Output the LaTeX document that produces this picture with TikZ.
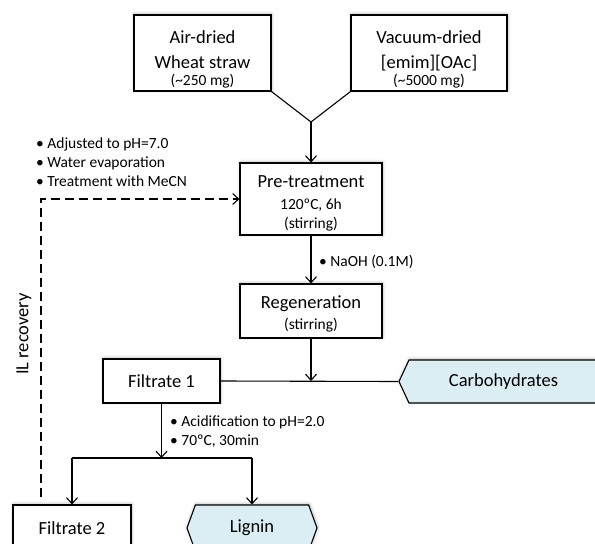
\documentclass[tikz,border=0pt]{standalone}
\usepackage{fontspec}
\setmainfont{Carlito}
\usetikzlibrary{arrows.meta,shapes.symbols,shadows.blur}
\definecolor{paleblue}{HTML}{DBEEF4}
\newcommand\bigtxt{\fontsize{18.5}{25}\selectfont}
\newcommand\smalltxt{\fontsize{15.5}{19}\selectfont}
% invisible strut that lowers a text block inside its box
\newcommand\lowerby[1]{\rule{0pt}{#1}}

\begin{document}
\begin{tikzpicture}[x=1pt,y=-1pt,
  softshadow/.style={blur shadow={shadow xshift=0.6pt,shadow yshift=0.8pt,
      shadow blur radius=3pt,shadow opacity=35}},
  box/.style={draw,line width=1.1pt,fill=white,align=center,inner sep=0pt,
      font=\bigtxt,softshadow},
  product/.style={draw,line width=1.1pt,fill=paleblue,inner sep=0pt,shape=signal,
      signal from=nowhere,softshadow,font=\bigtxt},
  conn/.style={line width=1.1pt},
  flow/.style={conn,-{Straight Barb[length=6pt,width=11pt,line width=1.1pt]}},
  note/.style={align=left,inner sep=0pt,font=\smalltxt}
]
\useasboundingbox (0,0) rectangle (595,544);

% input boxes
\node[box,minimum width=137pt,minimum height=76pt] (air) at (202.5,53)
  {\lowerby{26pt}Air-dried\\Wheat straw\\[-8pt]{\smalltxt (\textasciitilde250 mg)}};
\node[box,minimum width=156pt,minimum height=76pt] (vac) at (429,53)
  {\lowerby{26pt}Vacuum-dried\\{[emim][OAc]}\\[-8pt]{\smalltxt (\textasciitilde5000 mg)}};
\coordinate (mix) at (311,122);

% process steps
\node[box,minimum width=142pt,minimum height=72pt] (pre) at (311,199)
  {\lowerby{20pt}Pre-treatment\\[-3pt]{\smalltxt 120ºC, 6h}\\[-6pt]{\smalltxt (stirring)}};
\node[box,minimum width=142pt,minimum height=54pt] (reg) at (311,311)
  {\lowerby{19pt}Regeneration\\[-4pt]{\smalltxt (stirring)}};
\node[box,minimum width=117pt,minimum height=44pt] (f1) at (161.5,381) {Filtrate 1};
\node[box,minimum width=118pt,minimum height=46pt] (f2) at (72,528) {Filtrate 2};

% products
\node[product,signal to=west,signal pointer angle=130,
      minimum width=199pt,minimum height=43pt] (carb) at (503.5,381.5) {Carbohydrates};
\node[product,signal to=west and east,signal pointer angle=140,
      minimum width=130pt,minimum height=46pt] (lig) at (252,528) {Lignin};

% connectors
\draw[conn] (air.south east) -- (mix) -- (vac.south west);
\draw[flow] (mix) -- (pre.north);
\draw[flow] (pre.south) -- (reg.north);
\coordinate (split1) at (reg.south |- f1.east);
\draw[conn] (f1.east) -- (carb.west);
\draw[flow] (reg.south) -- (split1);
\coordinate (split2) at (161.5,458);
\draw[flow] (f1.south) -- (split2);
\coordinate (left2) at (f2.north |- split2);
\coordinate (right2) at (lig.north |- split2);
\draw[conn] (left2) -- (right2);
\draw[flow] (left2) -- (f2.north);
\draw[flow] (right2) -- (lig.north);

% ionic liquid recovery loop
\coordinate (rec0) at (41,497);
\coordinate (rec1) at (41,199);
\draw[flow,dash pattern=on 9pt off 5pt] (rec0) -- (rec1) -- (pre.west);
\node[rotate=90,font=\bigtxt,inner sep=0pt] (ilrec) at (24,334) {IL recovery};

% condition notes
\node[note,anchor=west] (notes1) at (36,162)
  {• Adjusted to pH=7.0\\• Water evaporation\\• Treatment with MeCN};
\node[note,anchor=west] (notes2) at (319,262) {• NaOH (0.1M)};
\node[note,anchor=west] (notes3) at (170,431.5)
  {• Acidification to pH=2.0\\• 70ºC, 30min};
\end{tikzpicture}
\end{document}
